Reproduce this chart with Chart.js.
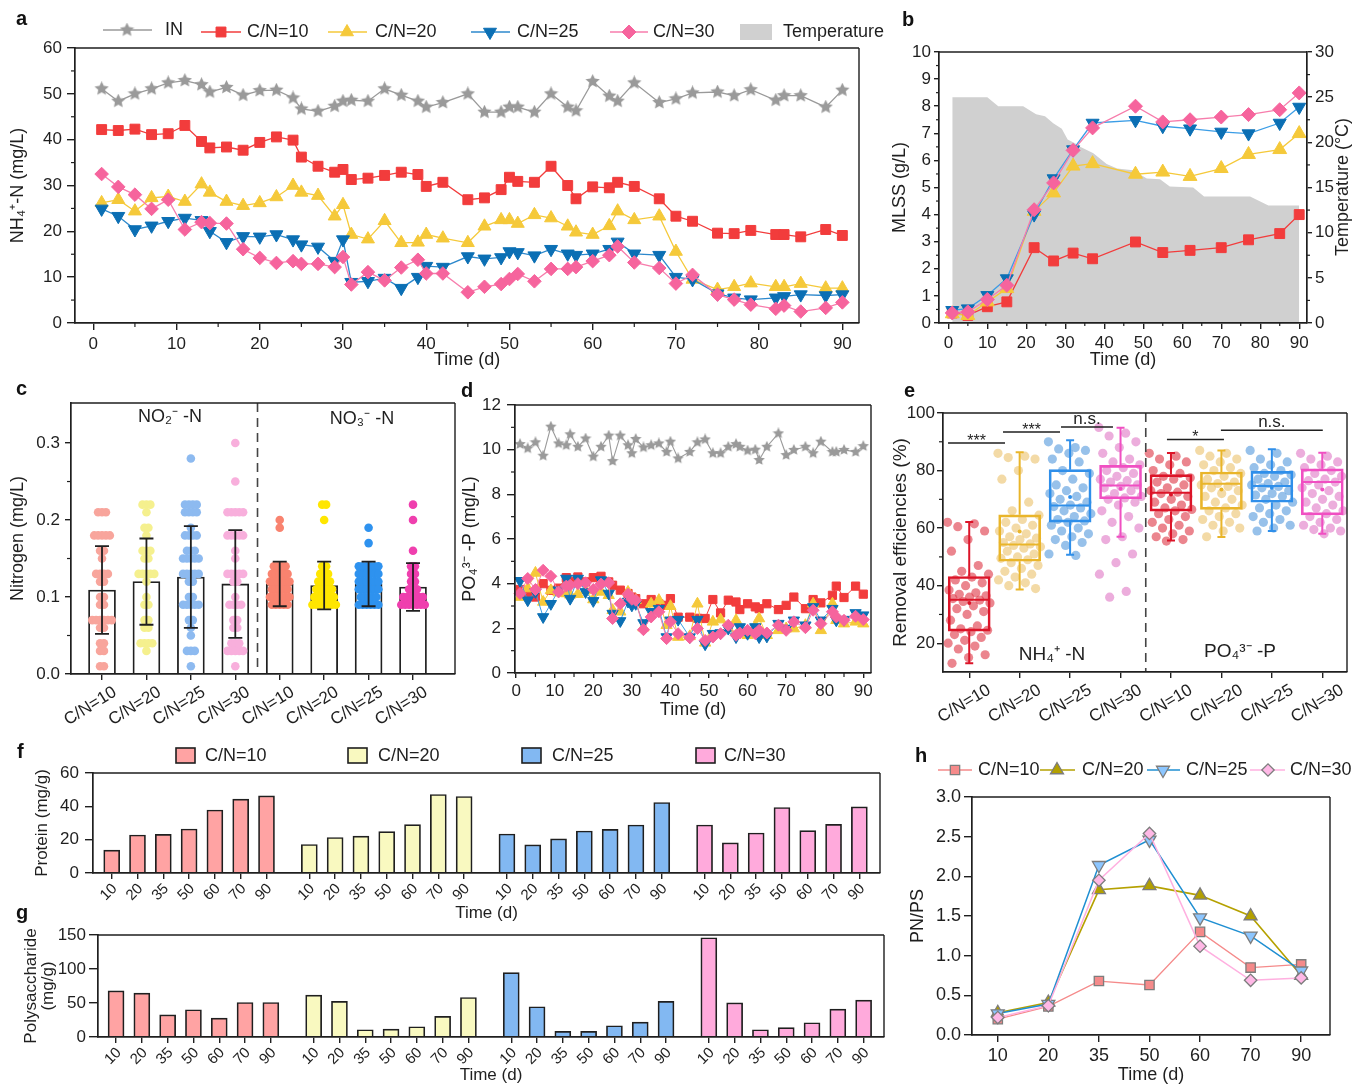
<!DOCTYPE html>
<html><head><meta charset="utf-8">
<script src="https://cdn.jsdelivr.net/npm/chart.js@4.4.1/dist/chart.umd.min.js"></script>
<style>
html,body{margin:0;padding:0;background:#fff;}
#page{position:relative;width:1354px;height:1086px;overflow:hidden;background:#fff;font-family:'Liberation Sans',Arial,Helvetica,sans-serif;}
canvas{position:absolute;}
.pl{position:absolute;font-weight:bold;font-size:20px;line-height:20px;color:#111;}
</style></head>
<body><div id="page">
<canvas id="ca" width="895" height="375" style="left:0px;top:0px"></canvas>
<canvas id="cb" width="474" height="375" style="left:880px;top:0px"></canvas>
<canvas id="cc" width="460" height="350" style="left:0px;top:380px"></canvas>
<canvas id="cd" width="425" height="345" style="left:455px;top:380px"></canvas>
<canvas id="ce" width="474" height="345" style="left:880px;top:380px"></canvas>
<canvas id="cf" width="895" height="189" style="left:0px;top:735px"></canvas>
<canvas id="cg" width="895" height="166" style="left:0px;top:920px"></canvas>
<canvas id="ch" width="454" height="341" style="left:900px;top:745px"></canvas>
<div class="pl" style="left:16px;top:8px">a</div>
<div class="pl" style="left:902px;top:9px">b</div>
<div class="pl" style="left:16px;top:378px">c</div>
<div class="pl" style="left:461px;top:380px">d</div>
<div class="pl" style="left:904px;top:380px">e</div>
<div class="pl" style="left:17px;top:741px">f</div>
<div class="pl" style="left:16px;top:902px">g</div>
<div class="pl" style="left:915px;top:745px">h</div>
</div>
<script>
// ================= DATA =================
const SERIES = ['C/N=10', 'C/N=20', 'C/N=25', 'C/N=30'];
const IN_LABEL = 'IN';
const TEMP_LABEL = 'Temperature';
const TIME_TITLE = 'Time (d)';
const X90_TICKS = [0, 10, 20, 30, 40, 50, 60, 70, 80, 90];
const X90_MINOR = [5, 15, 25, 35, 45, 55, 65, 75, 85];

// --- panel a : NH4+-N (mg/L)
const A_DAYS = [1,3,5,7,9,11,13,14,16,18,20,22,24,25,27,29,30,31,33,35,37,39,40,42,45,47,49,50,51,53,55,57,58,60,62,63,65,68,70,72,75,77,79,82,83,85,88,90];
const A_IN  = [51.1,48.4,50.0,51.1,52.4,52.9,52.0,50.4,51.4,49.7,50.7,50.8,49.1,46.7,46.2,47.3,48.4,48.6,48.4,51.1,49.7,48.4,47.1,48.1,50.0,46.0,46.0,47.1,47.1,46.0,50.0,47.1,46.3,52.7,49.5,48.4,52.4,48.1,48.9,50.2,50.4,49.6,50.9,48.6,49.6,49.6,47.1,50.8];
const A_C10 = [42.2,42.0,42.3,41.1,41.3,43.1,39.6,38.2,38.4,37.7,39.4,40.6,39.9,36.2,34.2,32.9,33.5,31.3,31.6,32.2,32.9,32.4,29.8,30.7,26.9,27.3,29.1,31.8,30.9,30.7,34.2,30.0,27.1,29.7,29.5,30.7,29.8,27.1,23.3,22.2,19.6,19.5,20.2,19.3,19.3,18.8,20.4,19.1];
const A_C20 = [26.2,26.9,24.4,27.3,27.6,26.5,30.3,28.5,26.5,25.6,26.2,27.5,30.0,28.5,27.8,23.3,25.8,19.3,18.3,22.3,17.5,17.6,19.3,18.5,17.5,21.1,22.5,22.5,21.7,23.6,22.9,21.1,19.8,19.3,21.2,24.4,22.5,23.3,15.6,9.5,7.3,7.9,8.7,7.9,7.9,8.6,7.6,7.6];
const A_C25 = [24.9,23.3,20.4,21.2,22.2,22.9,22.4,20.0,17.6,18.9,18.8,19.3,18.2,17.1,16.6,13.5,18.2,8.9,9.1,9.8,7.6,10.0,12.4,12.2,14.5,14.0,14.3,15.6,15.4,14.7,16.1,15.1,14.8,15.1,16.1,17.7,15.1,14.8,10.0,9.5,6.4,5.5,5.1,5.5,5.8,6.2,6.0,6.2];
const A_C30 = [32.5,29.7,28.0,24.9,26.9,20.4,22.0,21.8,21.7,16.1,14.2,13.1,13.5,12.9,12.9,12.2,14.4,8.4,11.1,9.3,12.1,13.8,10.8,10.8,6.7,7.9,8.5,9.6,10.7,9.1,11.8,11.8,12.2,13.5,14.8,16.7,13.2,12.0,8.6,10.5,6.2,5.1,4.0,3.1,3.8,2.5,3.3,4.5];
const A_Y_TICKS = [0, 10, 20, 30, 40, 50, 60];
const A_Y_MINOR = [5, 15, 25, 35, 45, 55];

// --- panel b : MLSS (g/L) and temperature
const B_DAYS = [1,5,10,15,22,27,32,37,48,55,62,70,77,85,90];
const B_C10 = [0.37,0.28,0.60,0.78,2.78,2.29,2.58,2.37,2.99,2.60,2.68,2.78,3.07,3.30,4.00];
const B_C20 = [0.34,0.28,0.78,1.27,4.12,4.80,5.79,5.88,5.49,5.57,5.41,5.70,6.22,6.40,6.99];
const B_C25 = [0.47,0.53,1.02,1.64,4.00,5.33,6.40,7.38,7.48,7.26,7.17,7.05,6.99,7.38,7.97];
const B_C30 = [0.37,0.41,0.87,1.39,4.18,5.17,6.37,7.20,8.00,7.42,7.50,7.60,7.69,7.87,8.49];
const B_TEMP_DAYS = [1,10,12.8,19.2,22.5,24.8,26.9,29.1,30.6,32.5,33.8,37.2,40.6,43.3,47.4,50.9,54.3,56.8,62.8,65.6,77.4,82.1,90];
const B_TEMP = [25,25,24,24,23.1,22.9,22.1,21.5,20.3,19.9,19.5,18.8,17.6,17.1,16.9,16.0,15.9,15.1,15.0,14.0,14.0,13.0,13.0];
const B_Y_TICKS = [0,1,2,3,4,5,6,7,8,9,10];
const B_Y_MINOR = [0.5,1.5,2.5,3.5,4.5,5.5,6.5,7.5,8.5,9.5];
const B_Y2_TICKS = [0,5,10,15,20,25,30];
const B_Y2_MINOR = [2.5,7.5,12.5,17.5,22.5,27.5];

// --- panel c : NO2- / NO3- nitrogen (mg/L)
const C_CATS = ['C/N=10','C/N=20','C/N=25','C/N=30','C/N=10','C/N=20','C/N=25','C/N=30'];
const C_MEAN = [0.109,0.120,0.126,0.117,0.117,0.115,0.117,0.113];
const C_SD   = [0.057,0.056,0.066,0.070,0.029,0.031,0.029,0.031];
const C_NO2_10 = [0.21,0.21,0.21,0.18,0.18,0.18,0.18,0.18,0.16,0.16,0.15,0.13,0.13,0.13,0.13,0.12,0.12,0.10,0.10,0.09,0.09,0.07,0.07,0.07,0.07,0.07,0.07,0.06,0.06,0.04,0.04,0.03,0.03,0.01,0.01];
const C_NO2_20 = [0.22,0.22,0.22,0.21,0.19,0.19,0.18,0.16,0.16,0.16,0.15,0.15,0.13,0.13,0.13,0.13,0.13,0.12,0.10,0.09,0.09,0.07,0.07,0.06,0.06,0.04,0.04,0.04,0.04,0.03];
const C_NO2_25 = [0.28,0.22,0.22,0.22,0.22,0.21,0.21,0.21,0.21,0.19,0.18,0.18,0.18,0.18,0.16,0.16,0.16,0.15,0.15,0.15,0.15,0.15,0.13,0.13,0.13,0.13,0.13,0.12,0.12,0.10,0.10,0.09,0.09,0.09,0.09,0.09,0.07,0.07,0.06,0.05,0.03,0.03,0.03,0.01];
const C_NO2_30 = [0.30,0.25,0.21,0.21,0.21,0.21,0.21,0.18,0.18,0.18,0.18,0.18,0.16,0.15,0.13,0.13,0.13,0.13,0.13,0.12,0.12,0.10,0.09,0.09,0.09,0.09,0.07,0.07,0.06,0.06,0.04,0.04,0.04,0.03,0.03,0.03,0.03,0.03,0.01];
const C_NO3_10 = [0.20,0.19,0.14,0.14,0.14,0.14,0.13,0.13,0.13,0.13,0.13,0.12,0.12,0.12,0.12,0.12,0.12,0.11,0.11,0.11,0.11,0.11,0.10,0.10,0.10,0.10,0.10,0.10,0.09,0.09,0.09,0.09,0.09];
const C_NO3_20 = [0.22,0.22,0.20,0.14,0.14,0.13,0.13,0.13,0.12,0.12,0.12,0.12,0.11,0.11,0.11,0.11,0.11,0.10,0.10,0.10,0.10,0.10,0.10,0.09,0.09,0.09,0.09,0.09,0.09,0.09];
const C_NO3_25 = [0.19,0.17,0.14,0.14,0.14,0.14,0.14,0.14,0.13,0.13,0.13,0.13,0.13,0.13,0.12,0.12,0.12,0.12,0.12,0.12,0.11,0.11,0.11,0.11,0.11,0.11,0.10,0.10,0.10,0.10,0.10,0.09,0.09,0.09,0.09,0.09,0.09];
const C_NO3_30 = [0.22,0.20,0.16,0.14,0.14,0.13,0.13,0.12,0.12,0.11,0.11,0.11,0.10,0.10,0.10,0.10,0.10,0.10,0.09,0.09,0.09,0.09,0.09,0.09,0.09];
const C_Y_TICKS = [0, 0.1, 0.2, 0.3];
const C_Y_LABELS = ['0.0', '0.1', '0.2', '0.3'];
const C_Y_MINOR = [0.05, 0.15, 0.25];
const C_GROUP_LABELS = ['NO₂⁻ -N', 'NO₃⁻ -N'];

// --- panel d : PO4 3- -P (mg/L)
const D_DAYS = [1,3,5,7,9,11,13,14,16,18,20,22,24,25,27,29,30,31,33,35,37,39,40,42,45,47,49,51,53,55,57,58,60,62,63,65,68,70,72,75,77,79,82,83,85,88,90];
const D_IN  = [10.25,10.06,10.33,9.73,11.03,10.28,10.20,10.69,10.13,10.50,9.69,10.13,10.63,9.49,10.63,10.20,9.84,10.48,10.10,10.20,10.28,9.90,10.36,9.61,9.90,10.33,10.46,9.84,9.84,10.13,10.25,10.13,9.96,10.00,9.54,10.13,10.73,9.76,9.99,10.13,9.84,10.36,9.90,9.90,9.99,9.90,10.16];
const D_C10 = [3.74,3.60,3.40,4.00,3.70,3.80,4.27,4.10,4.30,4.08,4.27,4.33,4.08,3.93,3.71,3.56,3.40,3.33,3.10,3.29,3.10,3.03,3.33,2.50,2.50,2.45,2.44,3.29,2.69,3.26,3.18,2.84,3.10,2.96,2.88,3.10,2.84,3.03,3.40,2.88,3.29,3.14,3.48,3.89,3.38,3.89,3.53];
const D_C20 = [3.40,3.78,4.48,3.18,3.70,3.60,3.56,3.50,3.53,3.70,3.29,3.63,3.48,2.81,2.74,3.63,3.30,3.26,2.03,3.10,3.26,2.14,2.99,1.61,1.64,3.10,1.35,2.29,2.39,1.99,2.36,1.94,1.69,2.09,2.44,1.69,1.91,1.99,1.99,2.14,3.10,1.91,3.10,2.36,2.21,2.29,2.21];
const D_C25 = [4.13,3.26,3.63,2.51,3.10,3.71,4.23,3.33,4.23,3.63,3.23,4.16,3.56,2.66,2.33,3.20,3.03,3.10,2.24,2.74,2.88,1.61,2.36,2.39,1.61,2.39,1.29,1.76,1.79,1.99,1.61,2.06,1.76,2.06,1.61,1.64,2.21,1.99,2.36,2.14,2.96,2.36,2.88,2.36,2.39,2.69,2.59];
const D_C30 = [3.56,4.23,3.74,4.60,4.33,3.63,3.89,3.93,4.00,4.04,3.74,3.98,4.04,2.44,3.10,3.53,3.30,3.26,1.94,2.51,2.74,1.54,2.29,1.76,1.58,1.99,1.46,1.61,1.76,2.14,1.69,1.79,1.91,1.76,1.91,1.79,2.14,1.91,2.29,2.03,2.81,2.21,2.74,2.51,2.36,2.54,2.39];
const D_Y_TICKS = [0, 2, 4, 6, 8, 10, 12];
const D_Y_MINOR = [1, 3, 5, 7, 9, 11];

// --- panel e : removal efficiencies (%)
const E_CATS = ['C/N=10','C/N=20','C/N=25','C/N=30','C/N=10','C/N=20','C/N=25','C/N=30'];
const E_Q1  = [24.2, 48.5, 62.1, 70.2, 65.9, 66.5, 69.0, 64.6];
const E_MED = [35.1, 54.3, 67.9, 74.8, 72.3, 75.4, 74.6, 76.0];
const E_Q3  = [43.2, 64.6, 80.3, 81.8, 78.6, 79.5, 79.7, 80.6];
const E_WLO = [13.0, 38.7, 50.7, 57.0, 55.7, 56.9, 59.0, 58.0];
const E_WHI = [62.1, 86.4, 90.5, 94.9, 86.1, 87.0, 87.4, 86.2];
const E_MEAN = [34.0, 58.8, 70.8, 73.7, 71.7, 73.4, 74.0, 73.4];
const E_N10 = [62,61.5,60.5,59,56,52,47,45,44,43,42,41,40,38.5,37.5,37,36.5,36,35.5,35,34.5,34,33,32,31,30,28,26,25,24.5,24,23,22,21,20,19,18,16,15,13];
const E_N20 = [86,85,84.5,84,80,77,69,66,64.5,63,62,61,60,59,58,57,56.5,56,55,54.5,54,53.5,53,52,51,50,49.5,49,48,47,46,45,44,43,42,41,40,39];
const E_N25 = [90,88,87.5,87,86,84,83,80,79,77,75,74,73,72,71,70,69,68,67.5,67,66,65,64,63,62.5,62,61,60,59,58,57,56,55,54,51,50.5];
const E_N30 = [95,93,92,90,88,86,84,83,82,81,80,79,78,77,76.5,76,75,74.5,74,73,72,71,70.5,70,69,68,66,64,62,60,57,56,51,48,44,38,36];
const E_P10 = [86,85,84,83,82,80,79,78,77.5,77,76,75,74,73,72.5,72,71,70,69,68,67,66.5,66,65,64,63,62,61,60,59,58,57,56,55.5];
const E_P20 = [87,86,85,84,83,82,81,80,79,78,77,76,75.5,75,74.5,74,73,72,71,70,69,68,67,66,65,64,63,62,61,60,59,57];
const E_P25 = [87,86,84,83,82,81,80,79,78.5,78,77,76,75.5,75,74.5,74,73,72,71.5,71,70,69,68,67,66,65,64,63,62,61,60,59];
const E_P30 = [86,85,84,83,82,81,80,79,78,77,76.5,76,75,74,73,72,71,70,69,68,67,66,65,64,63,62,61,60,59.5,59,58];
const E_SIG = [
  { x1: 0.58, x2: 1.71, y: 89.6, text: '***' },
  { x1: 1.67, x2: 2.80, y: 93.4, text: '***' },
  { x1: 2.82, x2: 3.85, y: 95.1, text: 'n.s.' },
  { x1: 4.92, x2: 6.05, y: 90.8, text: '*' },
  { x1: 5.99, x2: 8.01, y: 94.0, text: 'n.s.' }
];
const E_GROUP_LABELS = ['NH₄⁺ -N', 'PO₄³⁻ -P'];
const E_Y_TICKS = [20, 40, 60, 80, 100];
const E_Y_MINOR = [30, 50, 70, 90];

// --- panels f, g : EPS protein / polysaccharide (mg/g)
const EPS_DAYS = ['10', '20', '35', '50', '60', '70', '90'];
const PROT_C10 = [13.7, 22.8, 23.2, 26.4, 37.8, 44.3, 46.3];
const PROT_C20 = [17.1, 21.3, 22.1, 24.8, 29.0, 47.1, 45.9];
const PROT_C25 = [23.4, 16.9, 20.5, 25.2, 26.2, 28.8, 42.3];
const PROT_C30 = [28.8, 18.1, 24.0, 39.3, 25.4, 29.2, 39.7];
const POLY_C10 = [67.9, 64.5, 32.7, 40.1, 27.8, 50.8, 50.8];
const POLY_C20 = [61.6, 52.3, 10.7, 11.7, 15.1, 30.3, 58.1];
const POLY_C25 = [94.8, 44.5, 8.3, 8.3, 16.6, 22.0, 52.3];
const POLY_C30 = [146.0, 50.3, 10.7, 13.7, 21.0, 41.0, 54.2];
const F_Y_TICKS = [0, 20, 40, 60];
const G_Y_TICKS = [0, 50, 100, 150];

// --- panel h : PN/PS
const H_C10 = [0.20, 0.36, 0.68, 0.63, 1.30, 0.85, 0.89];
const H_C20 = [0.28, 0.41, 1.83, 1.88, 1.76, 1.50, 0.75];
const H_C25 = [0.27, 0.39, 2.14, 2.46, 1.48, 1.25, 0.81];
const H_C30 = [0.22, 0.37, 1.95, 2.54, 1.12, 0.69, 0.72];
const H_Y_TICKS = [0, 0.5, 1.0, 1.5, 2.0, 2.5, 3.0];
const H_Y_LABELS = ['0.0', '0.5', '1.0', '1.5', '2.0', '2.5', '3.0'];

// ================= STYLE =================
const FONT = "'Liberation Sans', Arial, Helvetica, sans-serif";
const INK = '#1f1f1f';
const GREY = '#9a9a9a', RED = '#f23c3c', YEL = '#f5c93a', BLUE_M = '#0b6fb4', BLUE_L = '#2c88cc', BLUE_LB = '#3b9de6', PINK = '#f6649d', PINK_L = '#f77dac';
const TEMP_GREY = '#d0d0d0';
const C_COLORS = ['#f8a59c', '#f5f08e', '#8dbaf0', '#f8afdc', '#f9836f', '#ffe600', '#2e92ef', '#ef3fae'];
const E_BOX = ['#dc1428', '#e9b52a', '#2f8fea', '#f04fc2', '#dc1428', '#e9b52a', '#2f8fea', '#f04fc2'];
const E_DOT = ['rgba(222,58,72,0.62)', 'rgba(238,204,132,0.72)', 'rgba(96,160,222,0.65)', 'rgba(228,138,205,0.7)'];
const FG_COLORS = ['#ffa3a3', '#f9f9c0', '#82b8f2', '#ffaadc'];
const H_LINE = ['#f58a8a', '#b5a100', '#1f8fd2', '#ffb0e0'];
const H_FILL = ['#f58a8a', '#b3a000', '#8cc6ff', '#ffb8e6'];

Chart.defaults.font.family = FONT;
Chart.defaults.color = INK;
Chart.defaults.animation = false;
Chart.defaults.events = [];
Chart.defaults.plugins.legend.display = false;
Chart.defaults.plugins.tooltip.enabled = false;

function starImage(size, color) {
  const c = document.createElement('canvas');
  c.width = size; c.height = size;
  const g = c.getContext('2d');
  const R = size / 2, r = R * 0.48;
  g.fillStyle = color; g.beginPath();
  for (let k = 0; k < 10; k++) {
    const a = -Math.PI / 2 + k * Math.PI / 5, rr = k % 2 ? r : R;
    g.lineTo(R + rr * Math.cos(a), R + rr * Math.sin(a));
  }
  g.closePath(); g.fill();
  return c;
}
const STAR_A = starImage(15, GREY);
const STAR_D = starImage(12, GREY);

function pts(xs, ys) { return xs.map((x, i) => ({ x, y: ys[i] })); }

function axis(o) {
  const horiz = o.position === 'bottom' || o.position === 'top';
  return {
    type: 'linear', position: o.position, min: o.min, max: o.max, offset: false,
    border: { display: true, color: INK, width: o.bw ?? 1.7, z: 2 },
    grid: { display: true, drawOnChartArea: false, drawTicks: true, tickLength: o.tl ?? 7, color: INK, lineWidth: 1.4, offset: false },
    ticks: {
      autoSkip: false, includeBounds: false, color: INK, padding: o.pad ?? 3, labelOffset: o.lo ?? 0,
      font: { size: o.fs ?? 17 }, minRotation: o.rot ?? 0, maxRotation: o.rot ?? 0,
      callback: (v, i) => (o.labels ? o.labels[i] : String(v))
    },
    afterBuildTicks: s => { s.ticks = o.ticks.map(v => ({ value: v })); },
    afterFit: s => { if (horiz) s.height = o.size; else s.width = o.size; },
    title: o.title ? { display: true, text: o.title, color: INK, font: { size: o.tfs ?? 18, lineHeight: o.tlh ?? 1.2 }, padding: { top: o.tpad ?? 4, bottom: o.tpadb ?? 4 } } : { display: false }
  };
}

function lineDS(label, xs, ys, o) {
  return {
    type: 'line', label, data: pts(xs, ys), yAxisID: o.axis || 'y',
    borderColor: o.line, borderWidth: o.lw ?? 1.3, backgroundColor: o.fill,
    pointStyle: o.style, pointRadius: o.r, pointRotation: o.rot || 0,
    pointBackgroundColor: o.fill, pointBorderColor: o.pb || o.fill, pointBorderWidth: o.pbw ?? 1,
    tension: 0, fill: false, order: o.order ?? 0, clip: false
  };
}

function minorTicks(list) {
  return { id: 'minorTicks', afterDraw(chart) {
    const ctx = chart.ctx; ctx.save(); ctx.strokeStyle = INK; ctx.lineWidth = 1.2;
    list.forEach(m => {
      const sc = chart.scales[m.axis];
      m.values.forEach(v => {
        const p = sc.getPixelForValue(v);
        ctx.beginPath();
        if (sc.isHorizontal()) { ctx.moveTo(p, sc.top); ctx.lineTo(p, sc.top + m.len); }
        else if (sc.position === 'left') { ctx.moveTo(sc.right, p); ctx.lineTo(sc.right - m.len, p); }
        else { ctx.moveTo(sc.left, p); ctx.lineTo(sc.left + m.len, p); }
        ctx.stroke();
      });
    });
    ctx.restore();
  }};
}

function frame(sides, w) {
  return { id: 'frame', afterDraw(chart) {
    const { left, right, top, bottom } = chart.chartArea, ctx = chart.ctx;
    ctx.save(); ctx.strokeStyle = INK; ctx.lineWidth = w || 1.4; ctx.beginPath();
    if (sides.includes('top')) { ctx.moveTo(left, top); ctx.lineTo(right, top); }
    if (sides.includes('right')) { ctx.moveTo(right, top); ctx.lineTo(right, bottom); }
    ctx.stroke(); ctx.restore();
  }};
}

function legendPlugin(items) {
  return { id: 'legendCustom', afterDraw(chart) {
    const ctx = chart.ctx;
    items.forEach(it => {
      ctx.save();
      if (it.line) { ctx.strokeStyle = it.line; ctx.lineWidth = it.lw || 1.3; ctx.beginPath(); ctx.moveTo(it.x1, it.y); ctx.lineTo(it.x2, it.y); ctx.stroke(); }
      if (it.marker) {
        ctx.fillStyle = it.mfill; ctx.strokeStyle = it.mstroke || it.mfill; ctx.lineWidth = it.mbw ?? 1;
        Chart.helpers.drawPoint(ctx, { pointStyle: it.marker, radius: it.r, rotation: it.rot || 0, borderWidth: it.mbw ?? 1 }, it.mx, it.y);
      }
      if (it.rect) {
        ctx.fillStyle = it.rfill; ctx.fillRect(it.rect[0], it.rect[1], it.rect[2], it.rect[3]);
        if (it.rstroke) { ctx.strokeStyle = it.rstroke; ctx.lineWidth = 1.6; ctx.strokeRect(it.rect[0], it.rect[1], it.rect[2], it.rect[3]); }
      }
      ctx.fillStyle = INK; ctx.font = (it.fs || 18) + 'px ' + FONT; ctx.textBaseline = 'middle'; ctx.textAlign = 'left';
      ctx.fillText(it.text, it.tx, it.y);
      ctx.restore();
    });
  }};
}

function swarm(values, center, step) {
  const counts = {}, seen = {};
  values.forEach(v => { counts[v] = (counts[v] || 0) + 1; });
  return values.map(v => {
    const n = counts[v]; const k = seen[v] = (seen[v] ?? -1) + 1;
    return { x: center + (k - (n - 1) / 2) * step, y: v };
  });
}

function jitter(values, center, width) {
  return values.map((v, i) => ({ x: center + (((i * 0.6180339) % 1) - 0.5) * width, y: v }));
}

function dashedMid(xval) {
  return { id: 'dashedMid', afterDatasetsDraw(chart) {
    const ctx = chart.ctx, x = chart.scales.x.getPixelForValue(xval), { top, bottom } = chart.chartArea;
    ctx.save(); ctx.strokeStyle = '#444'; ctx.lineWidth = 1.6; ctx.setLineDash([9, 6]);
    ctx.beginPath(); ctx.moveTo(x, top); ctx.lineTo(x, bottom); ctx.stroke(); ctx.restore();
  }};
}

function textItems(items) {
  return { id: 'textItems', afterDraw(chart) {
    const ctx = chart.ctx;
    items.forEach(t => {
      ctx.save(); ctx.fillStyle = INK; ctx.font = (t.fs || 18) + 'px ' + FONT;
      ctx.textAlign = 'center'; ctx.textBaseline = 'middle';
      ctx.translate(t.x, t.y); if (t.rot) ctx.rotate(t.rot);
      ctx.fillText(t.text, 0, 0); ctx.restore();
    });
  }};
}

// ================= PANEL A =================
new Chart(document.getElementById('ca'), {
  type: 'line',
  data: { datasets: [
    lineDS(IN_LABEL, A_DAYS, A_IN, { line: GREY, fill: GREY, style: STAR_A, r: 7, order: 5 }),
    lineDS(SERIES[0], A_DAYS, A_C10, { line: RED, fill: RED, style: 'rect', r: 7, order: 4 }),
    lineDS(SERIES[1], A_DAYS, A_C20, { line: YEL, fill: YEL, style: 'triangle', r: 7.5, order: 3 }),
    lineDS(SERIES[2], A_DAYS, A_C25, { line: BLUE_L, fill: BLUE_M, style: 'triangle', rot: 180, r: 7.5, order: 2 }),
    lineDS(SERIES[3], A_DAYS, A_C30, { line: PINK_L, fill: PINK, style: 'rectRot', r: 6.8, order: 1 })
  ]},
  options: {
    responsive: false, devicePixelRatio: 1,
    layout: { padding: { top: 48, right: 36, left: 0, bottom: 0 } },
    scales: {
      x: axis({ position: 'bottom', min: -2.2, max: 92, ticks: X90_TICKS, size: 52, title: TIME_TITLE, tl: 7, pad: 4 }),
      y: axis({ position: 'left', min: 0, max: 60, ticks: A_Y_TICKS, size: 75, title: 'NH₄⁺-N (mg/L)', tpad: 7, tl: 8, pad: 5 })
    }
  },
  plugins: [
    minorTicks([{ axis: 'x', values: X90_MINOR, len: 4 }, { axis: 'y', values: A_Y_MINOR, len: 4 }]),
    frame(['top', 'right']),
    legendPlugin([
      { text: IN_LABEL, tx: 165, y: 30, line: GREY, x1: 103, x2: 152, marker: starImage(15, GREY), mx: 127, r: 7, mfill: GREY },
      { text: SERIES[0], tx: 247, y: 32, line: RED, x1: 201, x2: 241, marker: 'rect', mx: 221, r: 7, mfill: RED },
      { text: SERIES[1], tx: 375, y: 32, line: YEL, x1: 328, x2: 367, marker: 'triangle', mx: 347, r: 7.5, mfill: YEL },
      { text: SERIES[2], tx: 517, y: 32, line: BLUE_L, x1: 471, x2: 510, marker: 'triangle', rot: 180, mx: 490, r: 7.5, mfill: BLUE_M },
      { text: SERIES[3], tx: 653, y: 32, line: PINK_L, x1: 610, x2: 648, marker: 'rectRot', mx: 629, r: 7, mfill: PINK },
      { text: TEMP_LABEL, tx: 783, y: 32, rect: [740, 24, 32, 16], rfill: TEMP_GREY }
    ])
  ]
});

// ================= PANEL B =================
new Chart(document.getElementById('cb'), {
  type: 'line',
  data: { datasets: [
    { type: 'line', label: TEMP_LABEL, data: pts(B_TEMP_DAYS, B_TEMP), yAxisID: 'y2', fill: 'origin', backgroundColor: TEMP_GREY, borderColor: 'rgba(0,0,0,0)', borderWidth: 0, pointRadius: 0, tension: 0, order: 10 },
    lineDS(SERIES[0], B_DAYS, B_C10, { line: RED, fill: RED, style: 'rect', r: 7, order: 4 }),
    lineDS(SERIES[1], B_DAYS, B_C20, { line: YEL, fill: YEL, style: 'triangle', r: 8, order: 3 }),
    lineDS(SERIES[2], B_DAYS, B_C25, { line: BLUE_LB, fill: BLUE_M, style: 'triangle', rot: 180, r: 7.5, order: 2 }),
    lineDS(SERIES[3], B_DAYS, B_C30, { line: PINK_L, fill: PINK, style: 'rectRot', r: 7, order: 1 })
  ]},
  options: {
    responsive: false, devicePixelRatio: 1,
    layout: { padding: { top: 52, right: 0, left: 0, bottom: 0 } },
    scales: {
      x: axis({ position: 'bottom', min: -2.4, max: 92, ticks: X90_TICKS, size: 52, title: TIME_TITLE, tl: 6, pad: 4 }),
      y: axis({ position: 'left', min: 0, max: 10, ticks: B_Y_TICKS, size: 59, title: 'MLSS (g/L)', tpad: 9, tl: 5, pad: 3 }),
      y2: axis({ position: 'right', min: 0, max: 30, ticks: B_Y2_TICKS, size: 47, tl: 5, pad: 3 })
    }
  },
  plugins: [
    minorTicks([{ axis: 'x', values: X90_MINOR, len: 3 }, { axis: 'y', values: B_Y_MINOR, len: 3 }, { axis: 'y2', values: B_Y2_MINOR, len: 3 }]),
    frame(['top']),
    textItems([{ text: 'Temperature (°C)', x: 463, y: 187, rot: -Math.PI / 2, fs: 18 }])
  ]
});

// ================= PANEL C =================
const C_GROUPS = [C_NO2_10, C_NO2_20, C_NO2_25, C_NO2_30, C_NO3_10, C_NO3_20, C_NO3_25, C_NO3_30];
const C_POS = [1, 2, 3, 4, 5, 6, 7, 8];
new Chart(document.getElementById('cc'), {
  type: 'bar',
  data: { datasets: [
    { type: 'bar', label: 'Mean', data: pts(C_POS, C_MEAN), backgroundColor: '#ffffff', borderColor: INK, borderWidth: 1.8, barThickness: 27, grouped: false, order: 10 },
    ...C_GROUPS.map((g, i) => ({ type: 'scatter', label: C_CATS[i], data: swarm(g, C_POS[i], 0.088), backgroundColor: C_COLORS[i], borderWidth: 0, pointRadius: 4.3, order: 5 }))
  ]},
  options: {
    responsive: false, devicePixelRatio: 1,
    layout: { padding: { top: 23, right: 5, left: 0, bottom: 0 } },
    scales: {
      x: axis({ position: 'bottom', min: 0.302, max: 8.945, ticks: C_POS, labels: C_CATS, size: 56, rot: 32, tl: 6, pad: 2, fs: 17, lo: 13 }),
      y: axis({ position: 'left', min: 0, max: 0.352, ticks: C_Y_TICKS, labels: C_Y_LABELS, size: 71, title: 'Nitrogen (mg/L)', tpad: 7, tl: 6, pad: 5 })
    }
  },
  plugins: [
    minorTicks([{ axis: 'y', values: C_Y_MINOR, len: 4 }]),
    frame(['top', 'right']),
    dashedMid(4.5),
    { id: 'errBars', afterDatasetsDraw(chart) {
      const ctx = chart.ctx, xs = chart.scales.x, ys = chart.scales.y;
      ctx.save(); ctx.strokeStyle = INK; ctx.lineWidth = 1.8;
      C_POS.forEach((p, i) => {
        const x = xs.getPixelForValue(p), yt = ys.getPixelForValue(C_MEAN[i] + C_SD[i]), yb = ys.getPixelForValue(C_MEAN[i] - C_SD[i]);
        ctx.beginPath(); ctx.moveTo(x, yt); ctx.lineTo(x, yb);
        ctx.moveTo(x - 7, yt); ctx.lineTo(x + 7, yt); ctx.moveTo(x - 7, yb); ctx.lineTo(x + 7, yb); ctx.stroke();
      });
      ctx.restore();
    }},
    textItems([{ text: C_GROUP_LABELS[0], x: 170, y: 37, fs: 18 }, { text: C_GROUP_LABELS[1], x: 362, y: 39, fs: 18 }])
  ]
});

// ================= PANEL D =================
new Chart(document.getElementById('cd'), {
  type: 'line',
  data: { datasets: [
    lineDS(IN_LABEL, D_DAYS, D_IN, { line: GREY, fill: GREY, style: STAR_D, r: 6, order: 5, lw: 1.1 }),
    lineDS(SERIES[0], D_DAYS, D_C10, { line: RED, fill: RED, style: 'rect', r: 5.8, order: 4, lw: 1 }),
    lineDS(SERIES[1], D_DAYS, D_C20, { line: YEL, fill: YEL, style: 'triangle', r: 6.5, order: 3, lw: 1 }),
    lineDS(SERIES[2], D_DAYS, D_C25, { line: BLUE_LB, fill: BLUE_M, style: 'triangle', rot: 180, r: 6.5, order: 2, lw: 1 }),
    lineDS(SERIES[3], D_DAYS, D_C30, { line: PINK_L, fill: PINK, style: 'rectRot', r: 6, order: 1, lw: 1 })
  ]},
  options: {
    responsive: false, devicePixelRatio: 1,
    layout: { padding: { top: 25, right: 9, left: 0, bottom: 0 } },
    scales: {
      x: axis({ position: 'bottom', min: -0.3, max: 92, ticks: X90_TICKS, size: 52, title: TIME_TITLE, tl: 5, pad: 3 }),
      y: axis({ position: 'left', min: 0, max: 12, ticks: D_Y_TICKS, size: 60, title: 'PO₄³⁻ -P (mg/L)', tpad: 4, tl: 8, pad: 6 })
    }
  },
  plugins: [
    minorTicks([{ axis: 'x', values: X90_MINOR, len: 4 }, { axis: 'y', values: D_Y_MINOR, len: 4 }]),
    frame(['top', 'right'])
  ]
});

// ================= PANEL E =================
const E_GROUPS = [E_N10, E_N20, E_N25, E_N30, E_P10, E_P20, E_P25, E_P30];
const E_POS = [1, 2, 3, 4, 5, 6, 7, 8];
new Chart(document.getElementById('ce'), {
  type: 'bar',
  data: { datasets: [
    { type: 'bar', label: 'IQR', data: E_POS.map((p, i) => ({ x: p, y: [E_Q1[i], E_Q3[i]] })), backgroundColor: 'rgba(255,255,255,0)', borderColor: E_BOX, borderWidth: 2, borderSkipped: false, barThickness: 42, grouped: false, order: 0 },
    ...E_GROUPS.map((g, i) => ({ type: 'scatter', label: E_CATS[i], data: jitter(g, E_POS[i], 0.86), backgroundColor: E_DOT[i % 4], borderWidth: 0, pointRadius: 4.6, order: 5 }))
  ]},
  options: {
    responsive: false, devicePixelRatio: 1,
    layout: { padding: { top: 33, right: 7, left: 0, bottom: 0 } },
    scales: {
      x: axis({ position: 'bottom', min: 0.48, max: 8.49, ticks: E_POS, labels: E_CATS, size: 53, rot: 31, tl: 6, pad: 2, fs: 17, lo: 20 }),
      y: axis({ position: 'left', min: 10, max: 100, ticks: E_Y_TICKS, size: 63, title: 'Removal efficiencies (%)', tfs: 19, tpad: 9, tl: 6, pad: 2 })
    }
  },
  plugins: [
    minorTicks([{ axis: 'y', values: E_Y_MINOR, len: 4 }]),
    frame(['top', 'right']),
    dashedMid(4.5),
    { id: 'boxParts', afterDatasetsDraw(chart) {
      const ctx = chart.ctx, xs = chart.scales.x, ys = chart.scales.y;
      ctx.save();
      E_POS.forEach((p, i) => {
        const x = xs.getPixelForValue(p);
        ctx.strokeStyle = E_BOX[i]; ctx.lineWidth = 2;
        const yq1 = ys.getPixelForValue(E_Q1[i]), yq3 = ys.getPixelForValue(E_Q3[i]);
        const ylo = ys.getPixelForValue(E_WLO[i]), yhi = ys.getPixelForValue(E_WHI[i]), ym = ys.getPixelForValue(E_MED[i]);
        ctx.beginPath();
        ctx.moveTo(x, yq3); ctx.lineTo(x, yhi); ctx.moveTo(x - 4, yhi); ctx.lineTo(x + 4, yhi);
        ctx.moveTo(x, yq1); ctx.lineTo(x, ylo); ctx.moveTo(x - 4, ylo); ctx.lineTo(x + 4, ylo);
        ctx.moveTo(x - 20, ym); ctx.lineTo(x + 20, ym);
        ctx.stroke();
        ctx.fillStyle = E_BOX[i]; ctx.beginPath(); ctx.arc(x, ys.getPixelForValue(E_MEAN[i]), 2, 0, Math.PI * 2); ctx.fill();
      });
      ctx.strokeStyle = INK; ctx.lineWidth = 1.5; ctx.fillStyle = INK; ctx.textAlign = 'center'; ctx.textBaseline = 'alphabetic';
      E_SIG.forEach(s => {
        const x1 = xs.getPixelForValue(s.x1), x2 = xs.getPixelForValue(s.x2), y = ys.getPixelForValue(s.y);
        ctx.beginPath(); ctx.moveTo(x1, y); ctx.lineTo(x2, y); ctx.stroke();
        const star = s.text.indexOf('*') >= 0;
        ctx.font = (star ? 16 : 17) + 'px ' + FONT;
        ctx.fillText(s.text, (x1 + x2) / 2, y - (star ? -3 : 3));
      });
      ctx.restore();
    }},
    textItems([{ text: E_GROUP_LABELS[0], x: 172, y: 275, fs: 19 }, { text: E_GROUP_LABELS[1], x: 360, y: 272, fs: 19 }])
  ]
});

// ================= PANELS F, G =================
const GROUP_STRIDE = 7.66;
const FG_POS = [];
const FG_LABELS = [];
for (let g = 0; g < 4; g++) for (let j = 0; j < EPS_DAYS.length; j++) { FG_POS.push(g * GROUP_STRIDE + j); FG_LABELS.push(EPS_DAYS[j]); }
function groupPos(g) { return EPS_DAYS.map((_, j) => g * GROUP_STRIDE + j); }
function epsBars(vals) {
  return vals.map((v, g) => ({ type: 'bar', label: SERIES[g], data: pts(groupPos(g), v), backgroundColor: FG_COLORS[g], borderColor: INK, borderWidth: 1.7, barThickness: 16, grouped: false }));
}

new Chart(document.getElementById('cf'), {
  type: 'bar',
  data: { datasets: epsBars([PROT_C10, PROT_C20, PROT_C25, PROT_C30]) },
  options: {
    responsive: false, devicePixelRatio: 1,
    layout: { padding: { top: 38, right: 15, left: 0, bottom: 0 } },
    scales: {
      x: axis({ position: 'bottom', min: -0.725, max: 29.78, ticks: FG_POS, labels: FG_LABELS, size: 51, rot: 45, fs: 15, tl: 6, pad: 1, lo: 3, title: TIME_TITLE, tfs: 17, tpad: 0, tpadb: 0 }),
      y: axis({ position: 'left', min: 0, max: 60, ticks: F_Y_TICKS, size: 93, title: 'Protein (mg/g)', tfs: 17, tpad: 31.8, tl: 8, pad: 6 })
    }
  },
  plugins: [
    frame(['top', 'right']),
    legendPlugin(SERIES.map((s, g) => ({ text: s, tx: [205, 378, 552, 724][g], y: 21, rect: [[176, 348, 522, 696][g], 13, 19, 15], rfill: FG_COLORS[g], rstroke: INK })))
  ]
});

new Chart(document.getElementById('cg'), {
  type: 'bar',
  data: { datasets: epsBars([POLY_C10, POLY_C20, POLY_C25, POLY_C30]) },
  options: {
    responsive: false, devicePixelRatio: 1,
    layout: { padding: { top: 15, right: 11, left: 0, bottom: 0 } },
    scales: {
      x: axis({ position: 'bottom', min: -0.70, max: 29.77, ticks: FG_POS, labels: FG_LABELS, size: 49, rot: 45, fs: 15, tl: 6, pad: 1, lo: 3, title: TIME_TITLE, tfs: 17, tpad: 0, tpadb: 0 }),
      y: axis({ position: 'left', min: 0, max: 150, ticks: G_Y_TICKS, size: 98, title: ['Polysaccharide', '(mg/g)'], tfs: 17, tlh: 1.0, tpad: 23, tl: 9, pad: 3 })
    }
  },
  plugins: [frame(['top', 'right'])]
});

// ================= PANEL H =================
const H_POS = [0, 1, 2, 3, 4, 5, 6];
new Chart(document.getElementById('ch'), {
  type: 'line',
  data: { datasets: [
    lineDS(SERIES[0], H_POS, H_C10, { line: H_LINE[0], fill: H_FILL[0], pb: '#7d7d7d', pbw: 1.3, style: 'rect', r: 6.6, order: 4 }),
    lineDS(SERIES[1], H_POS, H_C20, { line: H_LINE[1], fill: H_FILL[1], pb: '#7d7d7d', pbw: 1.3, style: 'triangle', r: 7.5, order: 3, lw: 1.6 }),
    lineDS(SERIES[2], H_POS, H_C25, { line: H_LINE[2], fill: H_FILL[2], pb: '#7d7d7d', pbw: 1.3, style: 'triangle', rot: 180, r: 7.5, order: 2, lw: 1.5 }),
    lineDS(SERIES[3], H_POS, H_C30, { line: H_LINE[3], fill: H_FILL[3], pb: '#7d7d7d', pbw: 1.3, style: 'rectRot', r: 6.2, order: 1, lw: 1.5 })
  ]},
  options: {
    responsive: false, devicePixelRatio: 1,
    layout: { padding: { top: 52, right: 24, left: 0, bottom: 0 } },
    scales: {
      x: axis({ position: 'bottom', min: -0.51, max: 6.57, ticks: H_POS, labels: EPS_DAYS, size: 51, title: TIME_TITLE, tfs: 18, tpad: 0, tpadb: 0, tl: 7, pad: 3, fs: 18 }),
      y: axis({ position: 'left', min: 0, max: 3, ticks: H_Y_TICKS, labels: H_Y_LABELS, size: 72, title: 'PN/PS', tpad: 7, tl: 8, pad: 3, fs: 18 })
    }
  },
  plugins: [
    frame(['top', 'right']),
    legendPlugin([
      { text: SERIES[0], tx: 78, y: 25, line: H_LINE[0], x1: 38, x2: 72, marker: 'rect', mx: 55, r: 6.6, mfill: H_FILL[0], mstroke: '#7d7d7d', mbw: 1.3 },
      { text: SERIES[1], tx: 182, y: 25, line: H_LINE[1], x1: 140, x2: 175, marker: 'triangle', mx: 157, r: 7.5, mfill: H_FILL[1], mstroke: '#7d7d7d', mbw: 1.3 },
      { text: SERIES[2], tx: 286, y: 25, line: H_LINE[2], x1: 247, x2: 280, marker: 'triangle', rot: 180, mx: 263, r: 7.5, mfill: H_FILL[2], mstroke: '#7d7d7d', mbw: 1.3 },
      { text: SERIES[3], tx: 390, y: 25, line: H_LINE[3], x1: 350, x2: 385, marker: 'rectRot', mx: 368, r: 6.2, mfill: H_FILL[3], mstroke: '#7d7d7d', mbw: 1.3 }
    ])
  ]
});
</script>
</body></html>
